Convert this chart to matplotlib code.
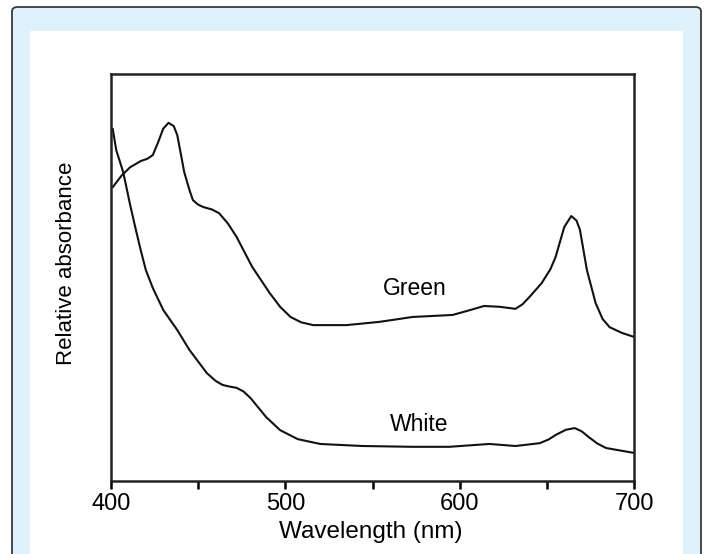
import matplotlib.pyplot as plt
from matplotlib.patches import FancyBboxPatch, Rectangle

# absorbance spectra (arbitrary units, 0..1)
green_wl = [401, 406, 411, 417, 421, 424, 427, 430, 433, 436, 438, 440, 442, 445,
            447, 450, 453, 458, 462, 467, 472, 481, 491, 497, 503, 509, 516, 535,
            554, 573, 596, 606, 614, 623, 632, 636, 640, 647, 652, 655, 660, 664,
            667, 669, 673, 678, 682, 686, 693, 700]
green_abs = [0.722, 0.750, 0.771, 0.786, 0.792, 0.801, 0.832, 0.866, 0.880, 0.872,
             0.850, 0.805, 0.759, 0.715, 0.690, 0.679, 0.673, 0.667, 0.658, 0.633,
             0.600, 0.526, 0.462, 0.428, 0.403, 0.390, 0.383, 0.383, 0.391, 0.403,
             0.408, 0.420, 0.430, 0.428, 0.423, 0.434, 0.452, 0.486, 0.520, 0.550,
             0.624, 0.651, 0.640, 0.617, 0.518, 0.437, 0.398, 0.378, 0.364, 0.354]

white_wl = [401, 403, 407, 411, 414, 417, 420, 424, 430, 438, 445, 455, 460, 464,
            468, 472, 476, 480, 489, 497, 507, 520, 544, 573, 594, 617, 632, 646,
            651, 655, 661, 666, 670, 674, 679, 684, 700]
white_abs = [0.865, 0.813, 0.759, 0.678, 0.622, 0.568, 0.518, 0.474, 0.420, 0.371,
             0.322, 0.265, 0.246, 0.236, 0.232, 0.229, 0.220, 0.204, 0.157, 0.125,
             0.103, 0.091, 0.086, 0.084, 0.084, 0.091, 0.086, 0.093, 0.102, 0.113,
             0.126, 0.130, 0.122, 0.108, 0.092, 0.081, 0.069]

major_ticks = [400, 500, 600, 700]
minor_ticks = [450, 550, 650]

FONT = "Liberation Sans"
W, H = 705, 554

fig = plt.figure(figsize=(W / 100, H / 100), dpi=100)
fig.patch.set_facecolor("white")

# light blue frame with dark rounded border, white panel inside
fig.patches.append(FancyBboxPatch((12 / W, -0.05), 689 / W, 1.05 - 7 / H,
                                  boxstyle="round,pad=0,rounding_size=0.008",
                                  transform=fig.transFigure, facecolor="#dff1fb",
                                  edgecolor="#3a3a3a", linewidth=1.3, zorder=0))
fig.patches.append(Rectangle((30 / W, 0), 653 / W, 1 - 31 / H,
                             transform=fig.transFigure, facecolor="white",
                             edgecolor="none", zorder=0.5))

ax = fig.add_axes([111 / W, (H - 481) / H, 523 / W, 407 / H])
ax.set_facecolor("none")
ax.set_zorder(2)

ax.plot(green_wl, green_abs, color="#111111", linewidth=1.5,
        solid_joinstyle="round")
ax.plot(white_wl, white_abs, color="#111111", linewidth=1.5,
        solid_joinstyle="round")

ax.set_xlim(400, 700)
ax.set_ylim(0, 1)

for s in ax.spines.values():
    s.set_linewidth(1.8)
    s.set_color("#222222")

ax.set_xticks(major_ticks)
ax.set_xticks(minor_ticks, minor=True)
ax.set_yticks([])
ax.tick_params(axis="x", which="both", direction="out", length=6, width=1.8,
               pad=3, labelsize=17)
for lbl in ax.get_xticklabels():
    lbl.set_fontfamily(FONT)

ax.text(574, 0.474, "Green", ha="center", va="center", fontsize=16.5, family=FONT)
ax.text(577, 0.138, "White", ha="center", va="center", fontsize=16.5, family=FONT)

fig.text(371 / W, 1 - 532 / H, "Wavelength (nm)", ha="center", va="center",
         fontsize=17.5, family=FONT, zorder=3)
fig.text(66 / W, 1 - 263 / H, "Relative absorbance", ha="center", va="center",
         rotation=90, fontsize=16, family=FONT, zorder=3)

fig.savefig("out.png", dpi=100)
